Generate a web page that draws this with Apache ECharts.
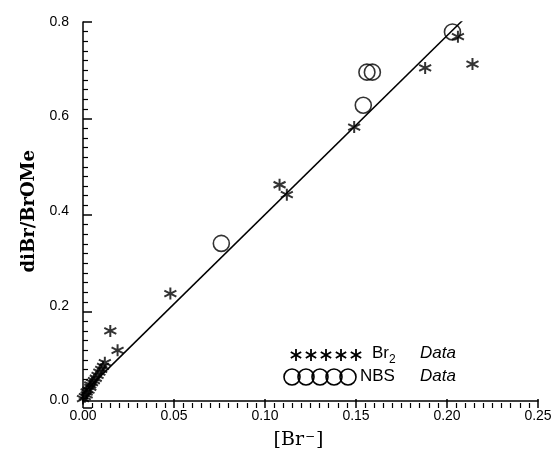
<!DOCTYPE html>
<html>
<head>
<meta charset="utf-8">
<script src="https://cdn.jsdelivr.net/npm/echarts@6/dist/echarts.min.js"></script>
<style>
  html, body { margin: 0; padding: 0; background: #fff; }
  #chart { width: 559px; height: 455px; }
</style>
</head>
<body>
<div id="chart"></div>
<script>
// Br2 data (asterisks)
const br2Data = [
    [0.000, 0.004], [0.001, 0.008], [0.002, 0.012], [0.002, 0.018], [0.003, 0.022],
    [0.004, 0.028], [0.004, 0.033], [0.005, 0.038], [0.006, 0.042], [0.007, 0.047],
    [0.008, 0.053], [0.009, 0.060], [0.010, 0.066], [0.011, 0.072], [0.012, 0.080],
    [0.015, 0.147], [0.019, 0.106], [0.048, 0.226], [0.108, 0.456], [0.112, 0.435],
    [0.149, 0.578], [0.188, 0.703], [0.206, 0.769], [0.214, 0.711]
];
// NBS data (circles)
const nbsData = [
    [0.076, 0.332], [0.154, 0.624], [0.156, 0.694], [0.159, 0.694], [0.203, 0.779]
];
// fitted line end points
const fitLine = [[0.0, 0.015], [0.2126, 0.8187]];

const xTicks = [0, 0.05, 0.10, 0.15, 0.20, 0.25];
const yTicks = [0, 0.2, 0.4, 0.6, 0.8];

const starPath = 'path://M0,-6L0,6M-5.2,-3L5.2,3M-5.2,3L5.2,-3';

// legend keys drawn by hand: five asterisks and a chain of five circles
const starArms = [[0, -6, 0, 6], [-5.2, -3, 5.2, 3], [-5.2, 3, 5.2, -3]];
const legendStars = [];
[0, 1, 2, 3, 4].forEach(i => {
    starArms.forEach(a => legendStars.push({
        type: 'line',
        shape: { x1: 296 + i * 15 + a[0], y1: 355 + a[1], x2: 296 + i * 15 + a[2], y2: 355 + a[3] },
        style: { stroke: '#000', lineWidth: 1.8 }
    }));
});
const legendCircles = [0, 1, 2, 3, 4].map(i => ({
    type: 'circle',
    shape: { cx: 292 + i * 14, cy: 377, r: 8 },
    style: { fill: 'none', stroke: '#000', lineWidth: 1.6 }
}));

const W = 559, H = 455;
const L = 83, R = 21, T = 22, B = 47;

// inside ticks: extra grids that sit just outside the plot, whose axes
// face the plot, so their outward ticks point into it
const tickOnly = {
    axisLine: { show: false, onZero: false },
    axisLabel: { show: false },
    splitLine: { show: false },
    axisTick: { show: true, length: 9, lineStyle: { color: '#000', width: 1.5 } },
    minorTick: { show: true, splitNumber: 10, length: 5, lineStyle: { color: '#000', width: 1.2 } }
};

const chart = echarts.init(document.getElementById('chart'));

const option = {
    animation: false,
    backgroundColor: '#fff',
    grid: [
        { left: L, right: R, top: T, bottom: B },
        { left: 0, right: W - L, top: T, bottom: B },
        { left: L, right: R, top: H - B, bottom: 0 }
    ],
    xAxis: [{
        type: 'value',
        gridIndex: 0,
        min: 0,
        max: 0.25,
        interval: 0.05,
        name: '{b|[Br}{s|−}{b|]}',
        nameLocation: 'middle',
        nameGap: 30,
        nameTextStyle: {
            padding: [0, 24, 0, 0],
            rich: {
                b: { fontFamily: 'DejaVu Serif', fontSize: 19, color: '#000' },
                s: { fontFamily: 'DejaVu Serif', fontSize: 12, color: '#000', verticalAlign: 'top', padding: [0, 1, 8, 1] }
            }
        },
        axisLine: { show: true, onZero: false, lineStyle: { color: '#000', width: 1.5 } },
        axisTick: { show: false },
        splitLine: { show: false },
        axisLabel: {
            color: '#000',
            fontFamily: 'Liberation Sans',
            fontSize: 14,
            margin: 9,
            formatter: v => xTicks.includes(Math.round(v * 100) / 100) ? v.toFixed(2) : ''
        }
    }, Object.assign({
        type: 'value',
        gridIndex: 2,
        position: 'top',
        min: 0,
        max: 0.25,
        interval: 0.05
    }, tickOnly), {
        type: 'value',
        gridIndex: 1,
        min: 0,
        max: 1,
        show: false
    }],
    yAxis: [{
        type: 'value',
        gridIndex: 0,
        min: 0,
        max: 0.8,
        interval: 0.2,
        name: 'diBr/BrOMe',
        nameLocation: 'middle',
        nameGap: 44,
        nameTextStyle: { fontFamily: 'DejaVu Serif', fontSize: 18, fontWeight: 'bold', color: '#000' },
        axisLine: { show: true, onZero: false, lineStyle: { color: '#000', width: 1.5 } },
        axisTick: { show: false },
        splitLine: { show: false },
        axisLabel: {
            color: '#000',
            fontFamily: 'Liberation Sans',
            fontSize: 14,
            margin: 14,
            formatter: v => yTicks.includes(Math.round(v * 10) / 10) ? v.toFixed(1) : ''
        }
    }, Object.assign({
        type: 'value',
        gridIndex: 1,
        position: 'right',
        min: 0,
        max: 0.8,
        interval: 0.2
    }, tickOnly), {
        type: 'value',
        gridIndex: 2,
        min: 0,
        max: 1,
        show: false
    }],
    graphic: [
        ...legendStars,
        ...legendCircles,
        { type: 'text', left: 372, top: 345, style: { text: '{a|Br}{s|2}', fill: '#000',
            rich: { a: { fontSize: 17, fontFamily: 'Liberation Sans' }, s: { fontSize: 12, fontFamily: 'Liberation Sans', padding: [12, 0, 0, 0] } } } },
        { type: 'text', left: 420, top: 345, style: { text: 'Data', fontSize: 17, fontStyle: 'italic', fill: '#000', fontFamily: 'Liberation Sans' } },
        { type: 'text', left: 360, top: 368, style: { text: 'NBS', fontSize: 17, fill: '#000', fontFamily: 'Liberation Sans' } },
        { type: 'text', left: 420, top: 368, style: { text: 'Data', fontSize: 17, fontStyle: 'italic', fill: '#000', fontFamily: 'Liberation Sans' } }
    ],
    series: [
        {
            name: 'fit',
            type: 'line',
            xAxisIndex: 0,
            yAxisIndex: 0,
            data: fitLine,
            symbol: 'none',
            lineStyle: { color: '#000', width: 1.5 },
            z: 1
        },
        {
            name: 'Br2 Data',
            type: 'scatter',
            xAxisIndex: 0,
            yAxisIndex: 0,
            data: br2Data,
            symbol: starPath,
            symbolSize: 12,
            itemStyle: { color: 'transparent', borderColor: '#000', borderWidth: 2 },
            z: 3
        },
        {
            name: 'NBS Data',
            type: 'scatter',
            xAxisIndex: 0,
            yAxisIndex: 0,
            data: nbsData,
            symbol: 'circle',
            symbolSize: 16,
            itemStyle: { color: 'transparent', borderColor: '#000', borderWidth: 1.6 },
            z: 2
        }
    ]
};
chart.setOption(option);
</script>
</body>
</html>
